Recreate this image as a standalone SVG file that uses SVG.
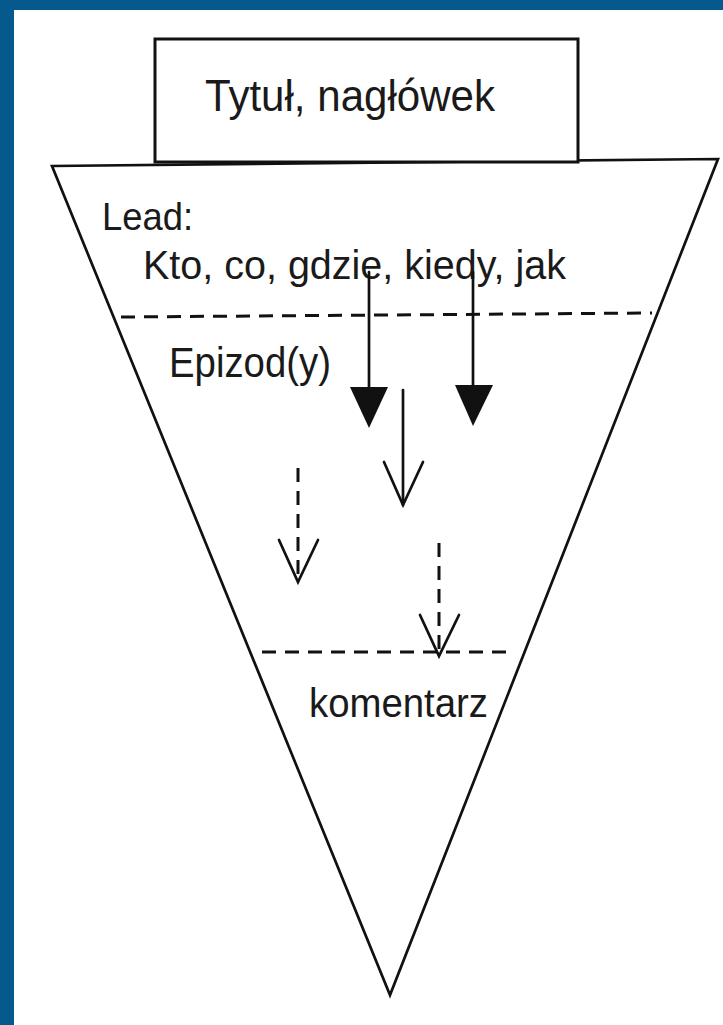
<svg xmlns="http://www.w3.org/2000/svg" width="723" height="1025" viewBox="0 0 723 1025">
  <style>
    .ln { fill: none; stroke: #111; stroke-width: 2.7; stroke-linecap: round; stroke-linejoin: miter; }
    .dash { fill: none; stroke: #111; stroke-width: 3; stroke-dasharray: 14 9; }
    .txt { font-family: "Liberation Sans", Arial, sans-serif; fill: #1a1a1a; }
  </style>
  <rect x="0" y="0" width="723" height="1025" fill="#ffffff"/>
  <rect x="0" y="0" width="723" height="10" fill="#05598c"/>
  <rect x="0" y="0" width="14" height="1025" fill="#05598c"/>

  <g id="pyramid">
    <polygon class="ln" points="52,166 718,159 390,995"/>
  </g>

  <g id="title">
    <rect x="155" y="39" width="423" height="123" fill="#fff" stroke="#111" stroke-width="3"/>
    <text class="txt" x="205" y="111" font-size="44" textLength="290" lengthAdjust="spacingAndGlyphs">Tytuł, nagłówek</text>
  </g>

  <g id="lead">
    <text class="txt" x="102" y="230" font-size="39" textLength="91" lengthAdjust="spacingAndGlyphs">Lead:</text>
    <text class="txt" x="143" y="279" font-size="41" textLength="423" lengthAdjust="spacingAndGlyphs">Kto, co, gdzie, kiedy, jak</text>
  </g>

  <g id="epizody">
    <text class="txt" x="169" y="377" font-size="43" textLength="162" lengthAdjust="spacingAndGlyphs">Epizod(y)</text>
  </g>

  <g id="komentarz">
    <text class="txt" x="309" y="717" font-size="40" textLength="179" lengthAdjust="spacingAndGlyphs">komentarz</text>
  </g>

  <g id="connectors">
    <line class="dash" x1="121" y1="317" x2="652" y2="313"/>
    <line class="dash" x1="262" y1="652" x2="512" y2="652"/>

    <line class="ln" x1="369" y1="272" x2="369" y2="392"/>
    <polygon points="350,387 388,387 369,428" fill="#111"/>

    <line class="ln" x1="473" y1="272" x2="473" y2="390"/>
    <polygon points="455,385 493,385 473,426" fill="#111"/>

    <line class="ln" x1="403" y1="390" x2="403" y2="505"/>
    <polyline class="ln" points="384,462 403,505 423,462"/>

    <line class="dash" x1="298" y1="468" x2="298" y2="582"/>
    <polyline class="ln" points="279,540 298,582 318,540"/>

    <line class="dash" x1="439" y1="543" x2="439" y2="656"/>
    <polyline class="ln" points="420,615 439,656 459,615"/>
  </g>
</svg>
